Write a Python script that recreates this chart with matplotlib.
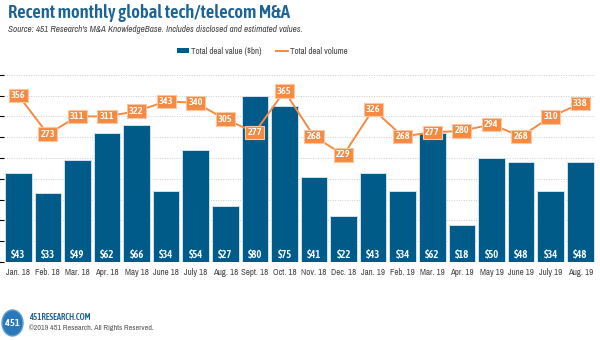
import matplotlib
matplotlib.use("Agg")
import matplotlib.pyplot as plt
from matplotlib.patches import Ellipse, Patch
from matplotlib.lines import Line2D

months = ["Jan. 18", "Feb. 18", "Mar. 18", "Apr. 18", "May 18", "June 18",
          "July 18", "Aug. 18", "Sept. 18", "Oct. 18", "Nov. 18", "Dec. 18",
          "Jan. 19", "Feb. 19", "Mar. 19", "Apr. 19", "May 19", "June 19",
          "July 19", "Aug. 19"]
deal_value = [43, 33, 49, 62, 66, 34, 54, 27, 80, 75, 41, 22,
              43, 34, 62, 18, 50, 48, 34, 48]
deal_volume = [356, 273, 311, 311, 322, 343, 340, 305, 277, 365, 268, 229,
               326, 268, 277, 280, 294, 268, 310, 338]

BLUE = "#005B88"
ORANGE = "#F58A42"
TITLE_BLUE = "#1D6494"
BODY = ["Archivo Narrow", "Liberation Sans", "DejaVu Sans"]
HEAVY = ["Asap Condensed", "Liberation Sans", "DejaVu Sans"]
plt.rcParams["font.family"] = BODY

W, H = 600, 340
fig = plt.figure(figsize=(6, 3.4), dpi=100)
fig.patch.set_facecolor("white")

def fx(px):
    return px / W

def fy(py):
    return 1 - py / H

left, right, top, bottom = 3.5, 595, 74.7, 262
ax = fig.add_axes([fx(left), fy(bottom), fx(right - left), (bottom - top) / H])
x = list(range(len(months)))

ax.bar(x, deal_value, width=0.9, color=BLUE, edgecolor="#cfe1ec",
       linewidth=0.7, zorder=2)
ax.set_ylim(0, 90)
ax.set_xlim(-0.5, len(months) - 0.5)
ax.set_yticks(range(0, 91, 10))
ax.yaxis.grid(True, color="#cccccc", linestyle=(0, (1, 1.5)), linewidth=0.7, zorder=0)
ax.set_axisbelow(True)
ax.tick_params(axis="y", left=False, labelleft=False)
ax.tick_params(axis="x", length=0, pad=4.5, labelsize=6.4, labelcolor="#444444")
ax.set_xticks(x)
ax.set_xticklabels(months)
for s in ax.spines.values():
    s.set_visible(False)

for xi, v in zip(x, deal_value):
    ax.annotate(f"${v}", (xi, 0), xytext=(0, 6), textcoords="offset points",
                ha="center", va="center", color="white", fontsize=7.6,
                family=HEAVY, fontweight=600, zorder=5)

ax2 = ax.twinx()
ax2.set_ylim(0, 400)
ax2.axis("off")
ax2.plot(x, deal_volume, color=ORANGE, linewidth=1.4, zorder=3)
for xi, v in zip(x, deal_volume):
    ax2.text(xi, v, str(v), ha="center", va="center", color="white",
             fontsize=7.4, family=HEAVY, fontweight=600, zorder=6,
             bbox=dict(boxstyle="square,pad=0.22", facecolor=ORANGE,
                       edgecolor="#f9c7a3", linewidth=0.8))

fig.text(fx(8), fy(13.5), "Recent monthly global tech/telecom M&A",
         ha="left", va="center", color=TITLE_BLUE, fontsize=13.3,
         family=HEAVY, fontweight=600)
fig.text(fx(8), fy(30), "Source: 451 Research's M&A KnowledgeBase. Includes "
         "disclosed and estimated values.", ha="left", va="center",
         color="#444444", fontsize=6.6, style="italic")

handles = [Patch(facecolor=BLUE, edgecolor="none"),
           Line2D([0], [0], color=ORANGE, linewidth=1.4)]
fig.legend(handles, ["Total deal value ($bn)", "Total deal volume"],
           loc="center", bbox_to_anchor=(fx(262), fy(51)), ncol=2,
           frameon=False, fontsize=6.4, handlelength=1.35, handleheight=0.5,
           handletextpad=0.25, columnspacing=1.6, labelcolor="#444444")

logo_ax = fig.add_axes([0, 0, 1, 1], facecolor="none")
logo_ax.set_xlim(0, W)
logo_ax.set_ylim(H, 0)
logo_ax.axis("off")
logo_ax.add_patch(Ellipse((12.5, 323), 21, 26, facecolor="#2B78B8",
                          edgecolor="#5c9fd2", linewidth=1))
logo_ax.text(12.5, 324, "451", ha="center", va="center", color="white",
             fontsize=7.5, family=HEAVY, fontweight=600)
logo_ax.text(29, 317.5, "451RESEARCH.COM", ha="left", va="center",
             color="#1D6494", fontsize=6.3, family=HEAVY, fontweight=600)
logo_ax.text(29, 327.5, "\u00a92019 451 Research. All Rights Reserved.",
             ha="left", va="center", color="#555555", fontsize=5.7)

fig.savefig("out.png", dpi=100, facecolor="white")
